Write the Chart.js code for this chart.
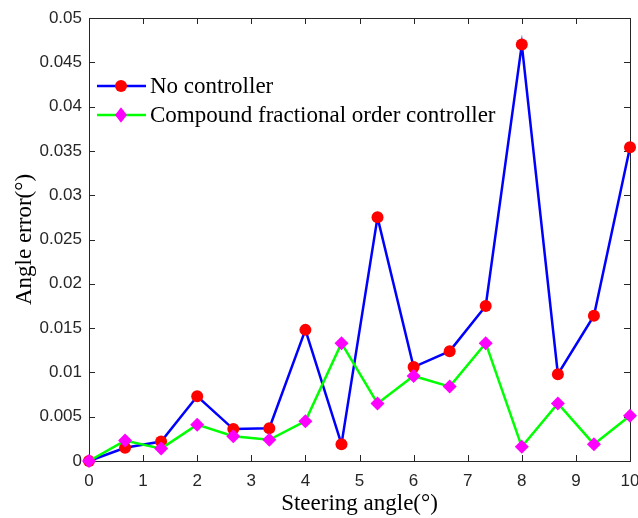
<!DOCTYPE html>
<html><head><meta charset="utf-8">
<script src="https://cdn.jsdelivr.net/npm/chart.js@4"></script>
<style>html,body{margin:0;padding:0;background:#fff}#wrap{width:638px;height:518px}</style>
</head><body><div id="wrap"><canvas id="c" width="638" height="518"></canvas></div>
<script>
const steeringAngles = [0, 0.667, 1.333, 2, 2.667, 3.333, 4, 4.667, 5.333, 6, 6.667, 7.333, 8, 8.667, 9.333, 10];
const noController = [0, 0.0015, 0.0022, 0.0073, 0.0036, 0.0037, 0.0148, 0.0019, 0.0275, 0.0106, 0.0124, 0.0175, 0.047, 0.0098, 0.0164, 0.0354];
const compoundFOC = [0, 0.0023, 0.0014, 0.0041, 0.0028, 0.0024, 0.0045, 0.0133, 0.0065, 0.0096, 0.0084, 0.0133, 0.0016, 0.0065, 0.0019, 0.0051];
const seriesNames = ['No controller', 'Compound fractional order controller'];
const xTickLabels = ['0','1','2','3','4','5','6','7','8','9','10'];
const yTickLabels = ['0','0.005','0.01','0.015','0.02','0.025','0.03','0.035','0.04','0.045','0.05'];
const xTitle = 'Steering angle(°)';
const yTitle = 'Angle error(°)';

const SERIF = '"Liberation Serif", "Times New Roman", serif';
const SANS = '"Liberation Sans", Arial, sans-serif';
const AX = '#262626';

const framePlugin = {
  id: 'frame',
  beforeDatasetsDraw(chart) {
    const {ctx, chartArea: a, scales} = chart;
    ctx.save();
    ctx.strokeStyle = AX; ctx.lineWidth = 1;
    ctx.strokeRect(Math.round(a.left) + 0.5, Math.round(a.top) + 0.5, Math.round(a.right - a.left), Math.round(a.bottom - a.top));
    const L = 6;
    ctx.beginPath();
    scales.x.ticks.forEach(t => {
      const x = Math.round(scales.x.getPixelForValue(t.value)) + 0.5;
      ctx.moveTo(x, a.bottom); ctx.lineTo(x, a.bottom - L);
      ctx.moveTo(x, a.top); ctx.lineTo(x, a.top + L);
    });
    scales.y.ticks.forEach(t => {
      const y = Math.round(scales.y.getPixelForValue(t.value)) + 0.5;
      ctx.moveTo(a.left, y); ctx.lineTo(a.left + L, y);
      ctx.moveTo(a.right, y); ctx.lineTo(a.right - L, y);
    });
    ctx.stroke();
    ctx.restore();
  }
};

const legendPlugin = {
  id: 'matlabLegend',
  afterDraw(chart) {
    const {ctx, chartArea: a} = chart;
    ctx.save();
    const x0 = a.left + 8, x1 = a.left + 57, xm = a.left + 32, xt = a.left + 61;
    const rows = [a.top + 68, a.top + 97];
    chart.data.datasets.forEach((ds, i) => {
      const y = rows[i];
      ctx.strokeStyle = ds.borderColor; ctx.lineWidth = ds.borderWidth;
      ctx.beginPath(); ctx.moveTo(x0, y); ctx.lineTo(x1, y); ctx.stroke();
      ctx.fillStyle = ds.pointBackgroundColor;
      ctx.beginPath();
      if (ds.pointStyle === 'circle') {
        ctx.arc(xm, y, ds.pointRadius, 0, Math.PI * 2);
      } else {
        const r = ds.pointRadius;
        ctx.moveTo(xm, y - r * 1.1); ctx.lineTo(xm + r * 0.85, y); ctx.lineTo(xm, y + r * 1.1); ctx.lineTo(xm - r * 0.85, y); ctx.closePath();
      }
      ctx.fill();
      ctx.fillStyle = '#000';
      ctx.font = '23px ' + SERIF;
      ctx.textBaseline = 'middle';
      ctx.textAlign = 'left';
      ctx.fillText(ds.label, xt, y + 1);
    });
    ctx.restore();
  }
};

new Chart(document.getElementById('c'), {
  type: 'line',
  data: {
    datasets: [
      {
        label: seriesNames[0],
        data: steeringAngles.map((x, i) => ({x, y: noController[i]})),
        borderColor: '#0000FF', borderWidth: 2.5,
        pointStyle: 'circle', pointRadius: 6, pointBackgroundColor: '#FF0000', pointBorderColor: '#FF0000', pointBorderWidth: 0,
        tension: 0, clip: false, order: 2
      },
      {
        label: seriesNames[1],
        data: steeringAngles.map((x, i) => ({x, y: compoundFOC[i]})),
        borderColor: '#00FF00', borderWidth: 2.5,
        pointStyle: 'rectRot', pointRadius: 7, pointBackgroundColor: '#FF00FF', pointBorderColor: '#FF00FF', pointBorderWidth: 0,
        tension: 0, clip: false, order: 1
      }
    ]
  },
  options: {
    responsive: false,
    animation: false,
    devicePixelRatio: 1,
    layout: {padding: {top: 18, right: 8, left: 0, bottom: 0}},
    plugins: {legend: {display: false}, tooltip: {enabled: false}},
    scales: {
      x: {
        type: 'linear', min: 0, max: 10,
        ticks: {stepSize: 1, color: AX, font: {family: SANS, size: 17}, padding: 10, maxRotation: 0,
          callback: (v, i) => xTickLabels[i]},
        grid: {display: false, drawTicks: false}, border: {display: false},
        title: {display: true, text: xTitle, color: '#000', font: {family: SERIF, size: 23}, padding: {top: 0, bottom: 0}},
        afterFit: s => { s.height = 57; s.paddingLeft = 0; s.paddingRight = 0; }
      },
      y: {
        min: 0, max: 0.05,
        ticks: {stepSize: 0.005, color: AX, font: {family: SANS, size: 17}, padding: 7,
          callback: (v, i) => yTickLabels[i]},
        grid: {display: false, drawTicks: false}, border: {display: false},
        title: {display: true, text: yTitle, color: '#000', font: {family: SERIF, size: 23}, padding: {top: 11, bottom: 0}},
        afterFit: s => { s.width = 89; }
      }
    }
  },
  plugins: [framePlugin, legendPlugin]
});
</script></body></html>
